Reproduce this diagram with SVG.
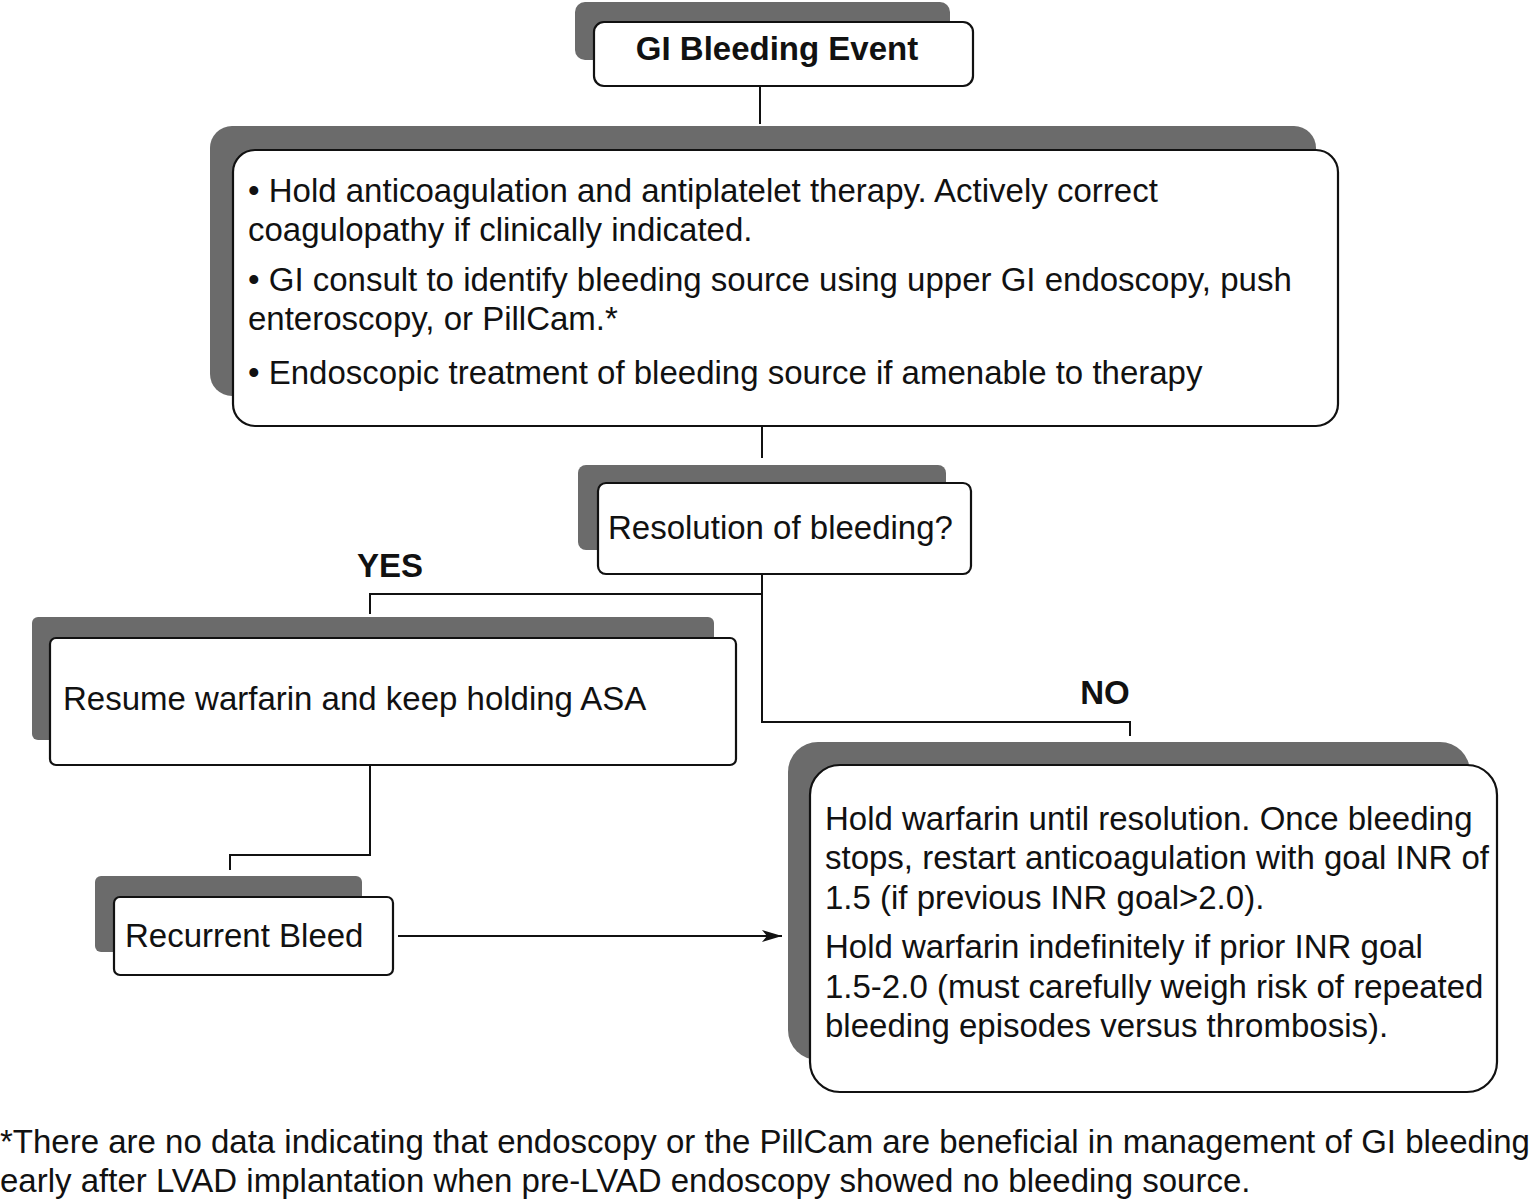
<svg xmlns="http://www.w3.org/2000/svg" width="1534" height="1200" viewBox="0 0 1534 1200">
<defs>
<style>
.sh{fill:#6b6b6b}
.bx{fill:#fff;stroke:#111;stroke-width:2.2}
.t{font-family:"Liberation Sans",Arial,sans-serif;font-size:33px;fill:#111}
.b{font-weight:bold}
.c{fill:none;stroke:#111;stroke-width:2}
</style>
<marker id="ah" viewBox="0 0 20 12" refX="20" refY="6" markerWidth="20" markerHeight="12" markerUnits="userSpaceOnUse" orient="auto">
<path d="M0,0 L20,6 L0,12 L5,6 Z" fill="#111"/>
</marker>
</defs>
<rect width="1534" height="1200" fill="#fff"/>
<g id="connectors">
<line class="c" x1="760" y1="86" x2="760" y2="124"/>
<line class="c" x1="762" y1="426" x2="762" y2="458"/>
<polyline class="c" points="762,574 762,722 1130,722 1130,736"/>
<polyline class="c" points="762,594 370,594 370,614"/>
<polyline class="c" points="370,765 370,855 230,855 230,870"/>
<line class="c" x1="398" y1="936" x2="782" y2="936" marker-end="url(#ah)"/>
<text class="t b" x="390" y="577" text-anchor="middle">YES</text>
<text class="t b" x="1105" y="704" text-anchor="middle">NO</text>
</g>
<g id="n1">
<rect class="sh" x="575" y="2" width="375" height="58" rx="10"/>
<rect class="bx" x="594" y="22" width="379" height="64" rx="10"/>
<text class="t b" x="777" y="60" text-anchor="middle">GI Bleeding Event</text>
</g>
<g id="n2">
<rect class="sh" x="210" y="126" width="1106" height="270" rx="22"/>
<rect class="bx" x="233" y="150" width="1105" height="276" rx="22"/>
<text class="t" x="248" y="202">• Hold anticoagulation and antiplatelet therapy. Actively correct</text>
<text class="t" x="248" y="241">coagulopathy if clinically indicated.</text>
<text class="t" x="248" y="291">• GI consult to identify bleeding source using upper GI endoscopy, push</text>
<text class="t" x="248" y="330">enteroscopy, or PillCam.*</text>
<text class="t" x="248" y="384">• Endoscopic treatment of bleeding source if amenable to therapy</text>
</g>
<g id="n3">
<rect class="sh" x="578" y="465" width="368" height="85" rx="8"/>
<rect class="bx" x="598" y="483" width="373" height="91" rx="8"/>
<text class="t" x="608" y="539">Resolution of bleeding?</text>
</g>
<g id="n4">
<rect class="sh" x="32" y="617" width="682" height="123" rx="6"/>
<rect class="bx" x="50" y="638" width="686" height="127" rx="6"/>
<text class="t" x="63" y="710">Resume warfarin and keep holding ASA</text>
</g>
<g id="n5">
<rect class="sh" x="95" y="876" width="267" height="76" rx="6"/>
<rect class="bx" x="114" y="897" width="279" height="78" rx="6"/>
<text class="t" x="125" y="947">Recurrent Bleed</text>
</g>
<g id="n6">
<rect class="sh" x="788" y="742" width="682" height="318" rx="30"/>
<rect class="bx" x="810" y="765" width="687" height="327" rx="30"/>
<text class="t" x="825" y="830">Hold warfarin until resolution. Once bleeding</text>
<text class="t" x="825" y="869">stops, restart anticoagulation with goal INR of</text>
<text class="t" x="825" y="909">1.5 (if previous INR goal&gt;2.0).</text>
<text class="t" x="825" y="958">Hold warfarin indefinitely if prior INR goal</text>
<text class="t" x="825" y="998">1.5-2.0 (must carefully weigh risk of repeated</text>
<text class="t" x="825" y="1037">bleeding episodes versus thrombosis).</text>
</g>
<g id="footnote">
<text class="t" x="0" y="1153">*There are no data indicating that endoscopy or the PillCam are beneficial in management of GI bleeding</text>
<text class="t" x="0" y="1192">early after LVAD implantation when pre-LVAD endoscopy showed no bleeding source.</text>
</g>
</svg>
